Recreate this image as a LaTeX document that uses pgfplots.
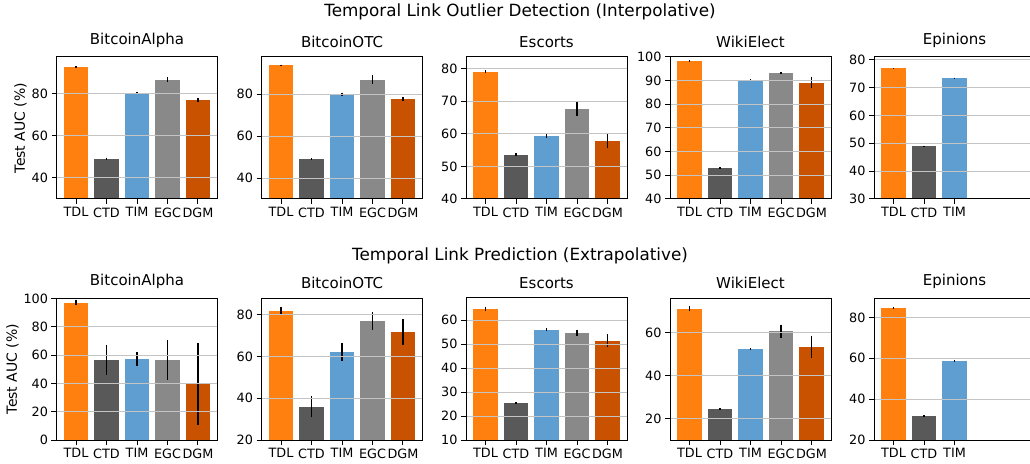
\documentclass[border=0pt]{standalone}
\usepackage{fontspec}
\setmainfont{DejaVu Sans}
\usepackage{pgfplots}
\pgfplotsset{compat=1.18}

\definecolor{cTDL}{HTML}{FF800E}
\definecolor{cCTD}{HTML}{595959}
\definecolor{cTIM}{HTML}{5F9ED1}
\definecolor{cEGC}{HTML}{898989}
\definecolor{cDGM}{HTML}{C85200}
\definecolor{gridc}{HTML}{C4C4C4}

% one bar with its error bar: x, value, error, colour
\newcommand{\mybar}[4]{%
  \addplot[ybar, bar shift=0pt, bar width=0.8, fill=#4, draw=none,
    error bars/.cd, y dir=both, y explicit, error mark=none,
    error bar style={black, line width=1.6pt}]
    coordinates {(#1,#2) +- (0,#3)};}

\pgfplotsset{
  panel/.style={
    anchor=south west, scale only axis,
    width=161pt, height=142pt,
    xmin=-0.64, xmax=4.64,
    xtick={0,1,2,3,4}, xticklabels={TDL,CTD,TIM,EGC,DGM},
    ymajorgrids, grid style={gridc, line width=1pt},
    axis on top, tick align=outside, tick pos=left,
    major tick length=5pt,
    axis line style={line width=1pt},
    every tick/.style={black, line width=1pt},
    ticklabel style={font=\fontsize{12.8}{14}\selectfont},
    /pgf/number format/assume math mode=true,
    title style={font=\fontsize{15}{17}\selectfont, at={(0.5,1)}, anchor=south},
    ylabel style={font=\fontsize{14}{16}\selectfont, xshift=0pt, yshift=-2pt},
  },
}

\begin{document}
\begin{tikzpicture}
\useasboundingbox (0,0) rectangle (1030pt,463pt);

\node[font=\fontsize{16.8}{19}\selectfont] at (520pt,451pt) {Temporal Link Outlier Detection (Interpolative)};
\node[font=\fontsize{16.8}{19}\selectfont] at (520pt,207pt) {Temporal Link Prediction (Extrapolative)};

% ---- top row ----
\begin{axis}[panel, at={(56.5pt,264pt)}, title={BitcoinAlpha},
  ylabel={Test AUC (\%)}, ymin=30, ymax=97.6, ytick={40,60,80}]
  \mybar{0}{93.0}{0.3}{cTDL}
  \mybar{1}{49.2}{0.5}{cCTD}
  \mybar{2}{80.5}{0.6}{cTIM}
  \mybar{3}{86.8}{1.3}{cEGC}
  \mybar{4}{77.2}{0.9}{cDGM}
\end{axis}

\begin{axis}[panel, at={(261.5pt,264pt)}, title={BitcoinOTC},
  ymin=30, ymax=97.7, ytick={40,60,80}]
  \mybar{0}{93.7}{0.2}{cTDL}
  \mybar{1}{49.3}{0.3}{cCTD}
  \mybar{2}{79.8}{0.6}{cTIM}
  \mybar{3}{86.9}{2.0}{cEGC}
  \mybar{4}{77.8}{1.0}{cDGM}
\end{axis}

\begin{axis}[panel, at={(466pt,264pt)}, title={Escorts},
  ymin=40, ymax=83.6, ytick={40,50,60,70,80}]
  \mybar{0}{79.1}{0.5}{cTDL}
  \mybar{1}{53.6}{0.4}{cCTD}
  \mybar{2}{59.4}{0.6}{cTIM}
  \mybar{3}{67.7}{2.3}{cEGC}
  \mybar{4}{57.8}{2.2}{cDGM}
\end{axis}

\begin{axis}[panel, at={(670pt,264pt)}, title={WikiElect},
  ymin=40, ymax=100, ytick={40,50,60,70,80,90,100}]
  \mybar{0}{98.5}{0.1}{cTDL}
  \mybar{1}{53.2}{0.2}{cCTD}
  \mybar{2}{90.3}{0.2}{cTIM}
  \mybar{3}{93.4}{0.4}{cEGC}
  \mybar{4}{89.2}{2.5}{cDGM}
\end{axis}

\begin{axis}[panel, at={(874pt,264pt)}, title={Epinions},
  ymin=30, ymax=81, ytick={30,40,50,60,70,80},
  xtick={0,1,2}, xticklabels={TDL,CTD,TIM}]
  \mybar{0}{77.0}{0.1}{cTDL}
  \mybar{1}{49.0}{0.2}{cCTD}
  \mybar{2}{73.5}{0.1}{cTIM}
\end{axis}

% ---- bottom row ----
\begin{axis}[panel, at={(56.5pt,23pt)}, title={BitcoinAlpha},
  ylabel={Test AUC (\%)}, ymin=0, ymax=100.5, ytick={0,20,40,60,80,100}]
  \mybar{0}{97.2}{1.9}{cTDL}
  \mybar{1}{56.7}{10.6}{cCTD}
  \mybar{2}{57.4}{4.9}{cTIM}
  \mybar{3}{56.7}{14.4}{cEGC}
  \mybar{4}{39.7}{29.0}{cDGM}
\end{axis}

\begin{axis}[panel, at={(261.5pt,23pt)}, title={BitcoinOTC},
  ymin=20, ymax=88, ytick={20,40,60,80}]
  \mybar{0}{81.9}{1.8}{cTDL}
  \mybar{1}{36.0}{5.2}{cCTD}
  \mybar{2}{62.2}{4.3}{cTIM}
  \mybar{3}{77.1}{4.3}{cEGC}
  \mybar{4}{71.9}{6.2}{cDGM}
\end{axis}

\begin{axis}[panel, at={(466pt,23pt)}, title={Escorts},
  ymin=10, ymax=69.2, ytick={10,20,30,40,50,60}]
  \mybar{0}{64.6}{1.0}{cTDL}
  \mybar{1}{25.4}{0.3}{cCTD}
  \mybar{2}{56.0}{0.6}{cTIM}
  \mybar{3}{54.7}{1.2}{cEGC}
  \mybar{4}{51.4}{2.8}{cDGM}
\end{axis}

\begin{axis}[panel, at={(670pt,23pt)}, title={WikiElect},
  ymin=10, ymax=76, ytick={20,40,60}]
  \mybar{0}{71.0}{1.2}{cTDL}
  \mybar{1}{24.6}{0.3}{cCTD}
  \mybar{2}{52.4}{0.4}{cTIM}
  \mybar{3}{60.6}{3.0}{cEGC}
  \mybar{4}{53.4}{5.1}{cDGM}
\end{axis}

\begin{axis}[panel, at={(874pt,23pt)}, title={Epinions},
  ymin=20, ymax=89.5, ytick={20,40,60,80},
  xtick={0,1,2}, xticklabels={TDL,CTD,TIM}]
  \mybar{0}{84.6}{0.5}{cTDL}
  \mybar{1}{31.9}{0.2}{cCTD}
  \mybar{2}{58.8}{0.4}{cTIM}
\end{axis}
\end{tikzpicture}
\end{document}
